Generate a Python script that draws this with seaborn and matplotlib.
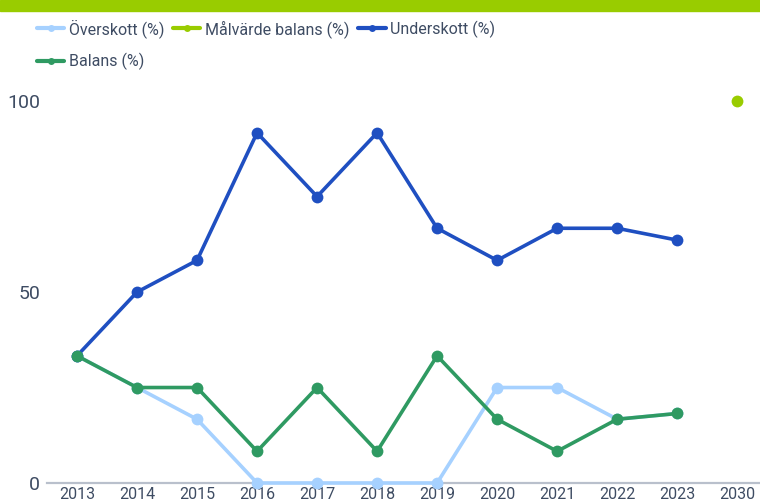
import matplotlib
matplotlib.use("Agg")
import matplotlib.pyplot as plt
import seaborn as sns
import pandas as pd

# data
years = ["2013", "2014", "2015", "2016", "2017", "2018", "2019", "2020", "2021", "2022", "2023"]
overskott = [33.3, 25, 16.7, 0, 0, 0, 0, 25, 25, 16.7, 18.2]
underskott = [33.3, 50, 58.3, 91.7, 75, 91.7, 66.7, 58.3, 66.7, 66.7, 63.6]
balans = [33.3, 25, 25, 8.3, 25, 8.3, 33.3, 16.7, 8.3, 16.7, 18.2]
malvarde_years = ["2030"]
malvarde = [100]

names = ["Överskott (%)", "Målvärde balans (%)", "Underskott (%)", "Balans (%)"]
colors = {"Överskott (%)": "#a6d1ff", "Målvärde balans (%)": "#99cc00",
          "Underskott (%)": "#1f4fc1", "Balans (%)": "#2f9a62"}

rows = []
for y, v in zip(years, overskott):
    rows.append((y, names[0], v))
for y, v in zip(malvarde_years, malvarde):
    rows.append((y, names[1], v))
for y, v in zip(years, underskott):
    rows.append((y, names[2], v))
for y, v in zip(years, balans):
    rows.append((y, names[3], v))
df = pd.DataFrame(rows, columns=["year", "serie", "value"])

sns.set_theme(style="white")
plt.rcParams["font.family"] = ["Roboto", "DejaVu Sans"]
txt = "#3e4c63"

fig = plt.figure(figsize=(7.6, 5.04), dpi=100)
ax = fig.add_axes([47 / 760, 21 / 504, 1 - 47 / 760, (483 - 82) / 504])

sns.lineplot(data=df, x="year", y="value", hue="serie", hue_order=names,
             palette=colors, sort=False, marker="o", markersize=8.5,
             markeredgewidth=0, linewidth=2.6, ax=ax, legend=False, clip_on=False)

ax.set_xlim(-0.5, 11.38)
ax.set_ylim(0, 105)
ax.set_yticks([0, 50, 100])
ax.set_xlabel("")
ax.set_ylabel("")
for s in ["top", "right", "left"]:
    ax.spines[s].set_visible(False)
ax.spines["bottom"].set_color("#b9c0cc")
ax.spines["bottom"].set_linewidth(1.6)
ax.spines["bottom"].set_zorder(0)
ax.tick_params(axis="y", length=0, pad=5, labelsize=14, labelcolor=txt)
ax.tick_params(axis="x", length=0, pad=3, labelsize=11.5, labelcolor=txt)

# top colour band
fig.patches.append(plt.Rectangle((0, 1 - 11 / 504), 1, 11 / 504, transform=fig.transFigure,
                                 color="#99cc00", zorder=5))

# legend, row-major like the reference
handles = {n: plt.Line2D([], [], color=colors[n], lw=3, marker="o", markersize=5,
                         markeredgewidth=0) for n in names}
order = [names[0], names[3], names[1], names[2]]
fig.legend([handles[n] for n in order], order, loc="upper left",
           bbox_to_anchor=(37 / 760, 1 - 19 / 504), borderaxespad=0, borderpad=0,
           ncol=3, frameon=False,
           handlelength=1.7, handletextpad=0.3, columnspacing=0.55,
           labelspacing=0.95, prop={"size": 11.5}, labelcolor=txt)

fig.savefig("out.png", dpi=100, facecolor="white")
